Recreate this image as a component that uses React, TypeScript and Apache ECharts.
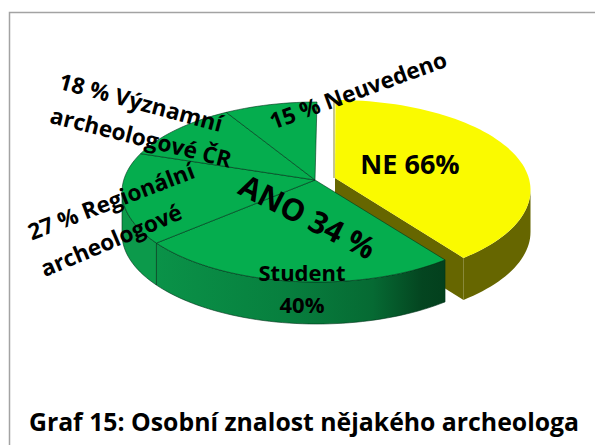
import React, { useEffect, useRef } from "react";
import * as echarts from "echarts";

// Sweep of each slice (share of the full circle, %), clockwise from 12 o'clock
const sliceNames = ["NE", "Student", "Regionální archeologové", "Významní archeologové ČR", "Neuvedeno"];
const sliceShares = [38.6, 26.8, 16.6, 10.3, 7.7];

const titleText = "Graf 15: Osobní znalost nějakého archeologa";
const labelTexts = [
  "NE 66%",
  "ANO 34 %",
  "Student",
  "40%",
  "15 % Neuvedeno",
  "18 % Významní",
  "archeologové ČR",
  "27 % Regionální",
  "archeologové",
];

const FONT = "'Open Sans', sans-serif";
const DEPTH = 42;
const RX = 195;
const RY = 90;
const GREEN = { cx: 317, cy: 192, ax: 315, ay: 180 };
const YELLOW = { cx: 335.5, cy: 190, ax: 335, ay: 178 };

const starts: number[] = [];
let acc = 0;
for (const s of sliceShares) {
  starts.push(acc);
  acc += (s / 100) * 360;
}

function pt(g: typeof GREEN, deg: number, dy = 0): number[] {
  const r = (deg * Math.PI) / 180;
  return [g.cx + RX * Math.sin(r), g.cy - RY * Math.cos(r) + dy];
}
function arc(g: typeof GREEN, from: number, to: number, dy = 0): number[][] {
  const pts: number[][] = [];
  const n = Math.max(2, Math.ceil(Math.abs(to - from) / 2));
  for (let i = 0; i <= n; i++) pts.push(pt(g, from + ((to - from) * i) / n, dy));
  return pts;
}
function wall(g: typeof GREEN, from: number, to: number): number[][] {
  return [...arc(g, from, to), ...arc(g, to, from, DEPTH)];
}

const LINE = "rgba(0,50,25,0.75)";
const studentWall = {
  type: "linear",
  x: 0,
  y: 0,
  x2: 1,
  y2: 0,
  colorStops: [
    { offset: 0, color: "#0A9248" },
    { offset: 0.45, color: "#077F3E" },
    { offset: 0.75, color: "#066A33" },
    { offset: 0.92, color: "#044520" },
    { offset: 1, color: "#03401D" },
  ],
};

function renderItem(params: any, api: any) {
  const i = params.dataIndex;
  const sweep = (api.value(0) / 100) * 360;
  const a = starts[i];
  const b = a + sweep;
  const children: any[] = [];
  if (i === 0) {
    const g = YELLOW;
    children.push({
      type: "polygon",
      shape: { points: [[g.ax, g.ay], pt(g, b), pt(g, b, DEPTH), [g.ax, g.ay + DEPTH]] },
      style: { fill: "#666600" },
    });
    children.push({ type: "polygon", shape: { points: wall(g, 90, b) }, style: { fill: "#666600" } });
    children.push({
      type: "polygon",
      shape: { points: [[g.ax, g.ay], ...arc(g, a, b)] },
      style: { fill: "#FAFA00" },
    });
    children.push({
      type: "line",
      shape: { x1: g.ax - 1, y1: g.ay, x2: g.ax - 1, y2: g.cy - RY },
      style: { stroke: "#8a8a20", lineWidth: 1 },
    });
  } else {
    const g = GREEN;
    const from = Math.max(a, 90);
    const to = Math.min(b, 270);
    if (to > from) {
      children.push({
        type: "polygon",
        shape: { points: wall(g, from, to) },
        style: { fill: i === 1 ? studentWall : "#0C9A4B", stroke: LINE, lineWidth: 0.8 },
      });
    }
    children.push({
      type: "polygon",
      shape: { points: [[g.ax, g.ay], ...arc(g, a, b)] },
      style: { fill: "#05AD4E", stroke: LINE, lineWidth: 0.8 },
    });
  }
  return { type: "group", children };
}

function label(text: string, x: number, y: number, size: number, deg = 0) {
  return {
    type: "text",
    x,
    y,
    rotation: (deg * Math.PI) / 180,
    z: 100,
    style: {
      text,
      fill: "#000",
      font: `bold ${size}px ${FONT}`,
      textAlign: "center",
      textVerticalAlign: "middle",
    },
  };
}

export default function App() {
  const ref = useRef<HTMLDivElement>(null);
  useEffect(() => {
    const chart = echarts.init(ref.current!, null, { renderer: "svg" });
    chart.setOption({
      animation: false,
      backgroundColor: "#fff",
      series: [
        {
          type: "custom",
          coordinateSystem: "none",
          silent: true,
          clip: false,
          renderItem,
          data: sliceShares.map((v, i) => ({ name: sliceNames[i], value: [v] })),
        },
      ],
      graphic: [
        {
          type: "polyline",
          z: 50,
          shape: { points: [[9.5, 446], [9.5, 12.5], [596, 12.5]] },
          style: { stroke: "#A3A3A3", lineWidth: 1.5, fill: "none" },
        },
        label(labelTexts[0], 410, 163, 27),
        label(labelTexts[1], 308, 216, 30.5, -27),
        label(labelTexts[2], 302, 272, 22),
        label(labelTexts[3], 302, 304, 22),
        label(labelTexts[4], 358, 90, 22.5, 20),
        label(labelTexts[5], 141, 102, 22.5, -15),
        label(labelTexts[6], 141, 137, 22.5, -14),
        label(labelTexts[7], 111, 201, 22.5, 21),
        label(labelTexts[8], 111, 240, 22.5, 23),
        label(titleText, 304, 421, 24.8),
      ],
    });
    return () => chart.dispose();
  }, []);
  return <div ref={ref} style={{ position: "absolute", left: 0, top: 0, width: 595, height: 445 }} />;
}
